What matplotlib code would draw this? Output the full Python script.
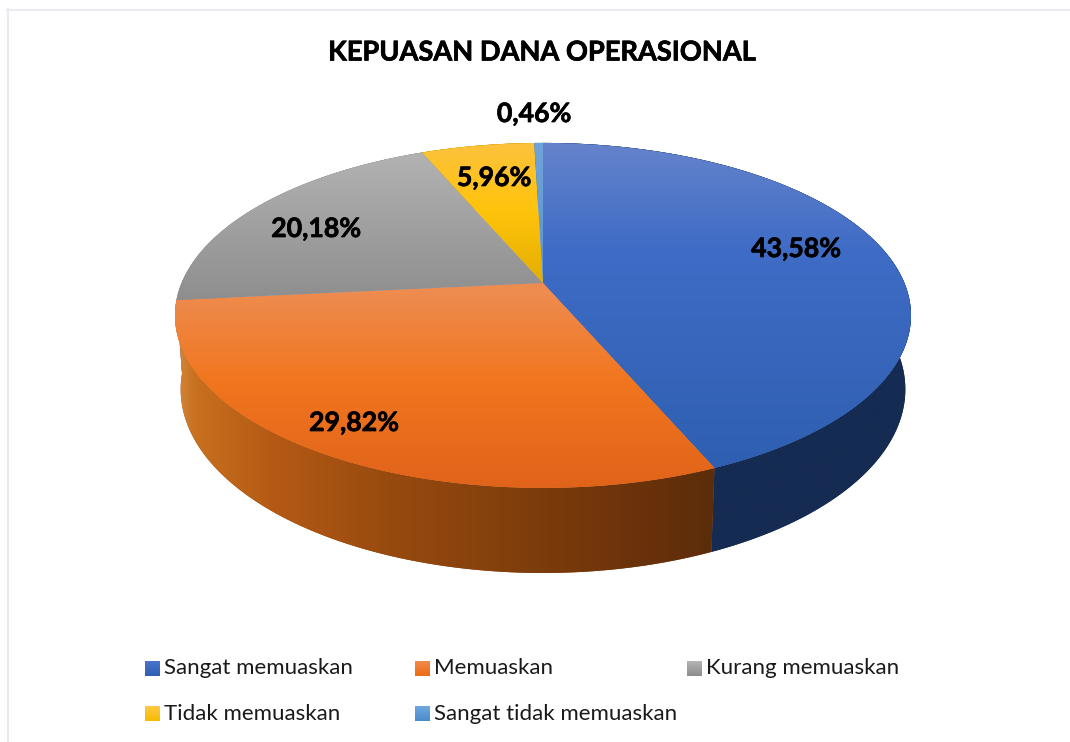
import numpy as np
import matplotlib
matplotlib.use("Agg")
import matplotlib.pyplot as plt
import matplotlib.patheffects as pe
from matplotlib.colors import to_rgb
from matplotlib.patches import Polygon

title = "KEPUASAN DANA OPERASIONAL"
categories = ["Sangat memuaskan", "Memuaskan", "Kurang memuaskan",
              "Tidak memuaskan", "Sangat tidak memuaskan"]
shares = [43.58, 29.82, 20.18, 5.96, 0.46]
value_labels = ["43,58%", "29,82%", "20,18%", "5,96%", "0,46%"]

# Styling and layout (pixel space of the figure)
top_stops = [
    [(143, "#6583cb"), (250, "#3f6cc6"), (470, "#2e5fb0")],
    [(290, "#ee8c50"), (380, "#f1761f"), (490, "#e0631a")],
    [(155, "#b2b2b2"), (300, "#8e8e8e")],
    [(145, "#fcc23c"), (210, "#ffc40c"), (285, "#e3ad00")],
    [(143, "#6fa4da"), (285, "#5a94cf")],
]
wall_stops = [
    [(700, "#152b52"), (910, "#152b52")],
    [(176, "#d4873a"), (195, "#c8701f"), (270, "#b55a14"), (400, "#95490f"),
     (500, "#84400c"), (650, "#68310a"), (712, "#5c2d0a")],
    [(170, "#8e8e8e"), (300, "#8e8e8e")],
    [(400, "#b08800"), (540, "#b08800")],
    [(530, "#3d6a96"), (545, "#3d6a96")],
]
label_xy = [(796, 249), (354, 423), (316, 229), (494, 178), (534, 114)]
legend_marker_x = [145, 415, 687, 145, 415]
legend_row_y = [668, 668, 668, 713, 713]
legend_stops = [("#4a74cc", "#2f5fb3"), ("#f28a4a", "#ec6a15"), ("#b5b5b5", "#8c8c8c"),
                ("#ffc844", "#f5bc00"), ("#70a8de", "#4a8ccb")]

CX, CY = 543.0, 283.0          # apex of the pie
RX, RY, PERSP = 361.4, 166.4, 0.188
DROP, SHRINK = 73.4, 0.015     # wall height and perspective


def project(theta, level):
    """theta: clockwise from the top of the pie, level 0 top rim, 1 bottom rim."""
    x, y = np.sin(theta), np.cos(theta)
    w = 1 + PERSP * y + SHRINK * level
    return CX + RX * x / w, CY - (RY * y - DROP * level) / w


plt.rcParams["font.family"] = ["Lato", "DejaVu Sans"]
fig = plt.figure(figsize=(10.7, 7.42), dpi=100, facecolor="white")
ax = fig.add_axes([0, 0, 1, 1])


def fill(verts, stops, axis):
    """Fill a polygon with a linear gradient along one image axis."""
    vx, vy = verts[:, 0], verts[:, 1]
    span = vy if axis == "y" else vx
    lo, hi = span.min() - 2, span.max() + 2
    pos = np.array([s[0] for s in stops], float)
    rgb = np.array([to_rgb(s[1]) for s in stops])
    samples = np.linspace(lo, hi, 256)
    colours = np.column_stack([np.interp(samples, pos, rgb[:, c]) for c in range(3)])
    img = colours[:, None, :] if axis == "y" else colours[None, :, :]
    if axis == "y":
        extent = (vx.min() - 2, vx.max() + 2, hi, lo)
    else:
        extent = (lo, hi, vy.max() + 2, vy.min() - 2)
    mid = colours[128]
    under = Polygon(verts, closed=True, facecolor=mid, edgecolor="none", zorder=1.9)
    ax.add_patch(under)
    clip = Polygon(verts, closed=True, facecolor="none", edgecolor="none",
                   transform=ax.transData)
    ax.add_patch(clip)
    im = ax.imshow(img, extent=extent, aspect="auto", interpolation="bilinear", zorder=2)
    im.set_clip_path(clip)
    return im


edges = np.concatenate([[0], np.cumsum(shares)]) / np.sum(shares) * 2 * np.pi

# side walls first, then the top faces
for i in [2, 3, 4, 0, 1]:
    t = np.linspace(edges[i], edges[i + 1], 200)
    xt, yt = project(t, 0)
    xb, yb = project(t, 1)
    verts = np.column_stack([np.r_[xt, xb[::-1]], np.r_[yt, yb[::-1]]])
    fill(verts, wall_stops[i], "x")

for i in range(len(shares)):
    t = np.linspace(edges[i], edges[i + 1], 200)
    xt, yt = project(t, 0)
    verts = np.column_stack([np.r_[CX, xt], np.r_[CY, yt]])
    fill(verts, top_stops[i], "y")

bold_fx = [pe.withStroke(linewidth=0.5, foreground="black")]
for (x, y), lab in zip(label_xy, value_labels):
    ax.text(x, y, lab, ha="center", va="center", fontsize=19.2, fontweight="bold",
            color="black", zorder=5, path_effects=bold_fx)

ax.text(542.5, 52.5, title, ha="center", va="center", fontsize=19.6, fontweight="bold",
        color="black", zorder=5, path_effects=bold_fx)

for name, mx, my, st in zip(categories, legend_marker_x, legend_row_y, legend_stops):
    sq = np.array([[mx, my - 7], [mx + 15, my - 7], [mx + 15, my + 8], [mx, my + 8]], float)
    fill(sq, [(my - 7, st[0]), (my + 8, st[1])], "y")
    ax.text(mx + 18.5, my + 0.5, name, ha="left", va="center", fontsize=16.05,
            color="#1a1a1a", zorder=5)

# chart frame fragments
ax.plot([7.5, 7.5], [9, 742], color="#e8ebef", lw=1.5, zorder=1)
ax.plot([7, 1070], [9.5, 9.5], color="#e8ebef", lw=1.5, zorder=1)

ax.set_xlim(0, 1070)
ax.set_ylim(742, 0)
ax.axis("off")
fig.savefig("out.png", dpi=100, facecolor="white")
